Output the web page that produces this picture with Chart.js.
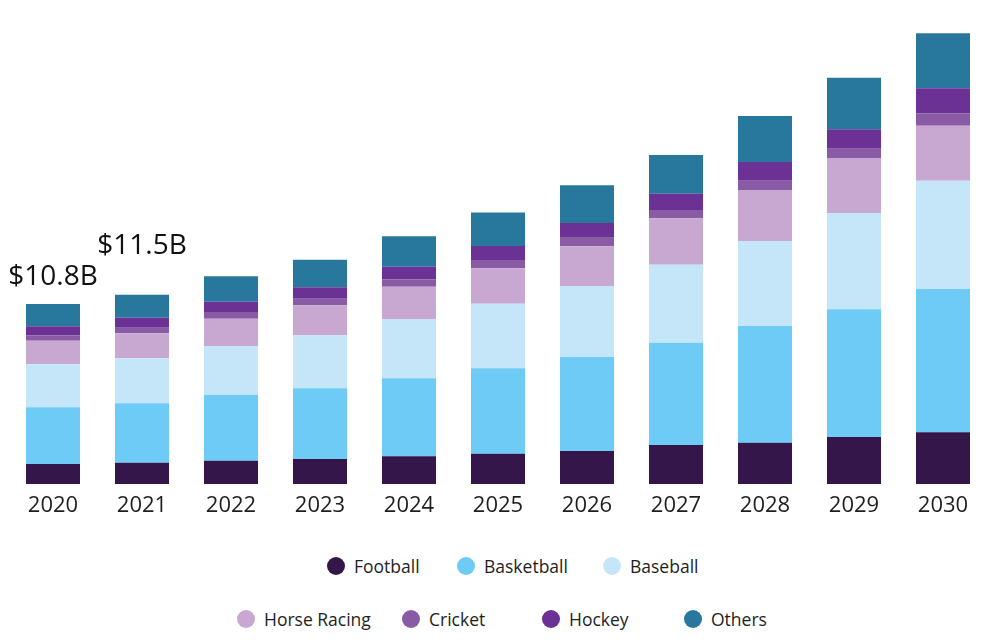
<!DOCTYPE html>
<html>
<head>
<meta charset="utf-8">
<script src="https://cdn.jsdelivr.net/npm/chart.js@4.4.1/dist/chart.umd.min.js"></script>
<style>
  html, body { margin: 0; padding: 0; background: #fff; }
  #wrap { position: relative; width: 1000px; height: 643px; font-family: "Open Sans", sans-serif; color: #1e1e1e; }
  #chart-box { position: absolute; left: 0; top: 0; width: 1000px; height: 530px; }
  .legend-item { position: absolute; display: flex; align-items: center; font-size: 17.5px; white-space: nowrap; transform: translateY(-50%); }
  .legend-dot { width: 18px; height: 18px; border-radius: 50%; margin-right: 9px; }
</style>
</head>
<body>
<div id="wrap">
  <div id="chart-box"><canvas id="marketchart" width="1000" height="530"></canvas></div>
  <div id="legend"></div>
</div>
<script>
// years on the x axis
const years = ['2020', '2021', '2022', '2023', '2024', '2025', '2026', '2027', '2028', '2029', '2030'];

// market size by segment, $B
const football    = [1.20, 1.28, 1.40, 1.50, 1.66, 1.82, 1.98, 2.34, 2.48, 2.82, 3.10];
const basketball  = [3.40, 3.56, 3.94, 4.24, 4.68, 5.12, 5.64, 6.14, 7.00, 7.66, 8.60];
const baseball    = [2.58, 2.70, 2.94, 3.18, 3.56, 3.88, 4.26, 4.68, 5.10, 5.78, 6.50];
const horseRacing = [1.42, 1.50, 1.64, 1.80, 1.94, 2.12, 2.38, 2.78, 3.06, 3.30, 3.30];
const cricket     = [0.32, 0.34, 0.40, 0.40, 0.44, 0.50, 0.52, 0.50, 0.56, 0.56, 0.74];
const hockey      = [0.54, 0.60, 0.62, 0.68, 0.76, 0.84, 0.88, 0.98, 1.12, 1.16, 1.50];
const others      = [1.34, 1.38, 1.52, 1.66, 1.82, 2.01, 2.26, 2.32, 2.76, 3.10, 3.30];

// total labels shown above the first bars
const totalLabels = ['$10.8B', '$11.5B'];

const seriesNames = ['Football', 'Basketball', 'Baseball', 'Horse Racing', 'Cricket', 'Hockey', 'Others'];
const seriesValues = [football, basketball, baseball, horseRacing, cricket, hockey, others];
const seriesColors = ['#34164a', '#6ecbf5', '#c4e6f8', '#c8a8d1', '#8a5ba5', '#6c3194', '#28789e'];

// layout bits
const labelLift = [19, 41];  // px above the bar top
const legendSpots = [[327, 566], [457, 566], [603, 566], [237, 619], [402, 619], [542, 619], [684, 619]];

const datasets = seriesNames.map((name, i) => ({
  label: name,
  data: seriesValues[i],
  backgroundColor: seriesColors[i],
  borderWidth: 0,
  barPercentage: 0.607,
  categoryPercentage: 1
}));

// draws the $ totals above the first bars
const totalsPlugin = {
  id: 'totals',
  afterDatasetsDraw(chart) {
    const ctx = chart.ctx;
    const topMeta = chart.getDatasetMeta(chart.data.datasets.length - 1);
    ctx.save();
    ctx.font = '28px "Open Sans"';
    ctx.fillStyle = '#111';
    ctx.textAlign = 'center';
    ctx.textBaseline = 'alphabetic';
    totalLabels.forEach((txt, i) => {
      const bar = topMeta.data[i];
      ctx.fillText(txt, bar.x, bar.y - labelLift[i]);
    });
    ctx.restore();
  }
};

const ctx = document.getElementById('marketchart').getContext('2d');
const marketChart = new Chart(ctx, {
  type: 'bar',
  data: { labels: years, datasets: datasets },
  options: {
    responsive: false,
    animation: false,
    layout: { padding: { top: 10, left: 8.5, right: 12.5, bottom: 1.6 } },
    plugins: {
      legend: { display: false },
      tooltip: { enabled: false }
    },
    scales: {
      x: {
        stacked: true,
        grid: { display: false, drawTicks: false },
        border: { display: false },
        ticks: { color: '#1e1e1e', padding: 9, font: { family: 'Open Sans', size: 22 } }
      },
      y: {
        stacked: true,
        display: false,
        min: 0,
        max: 28.44
      }
    }
  },
  plugins: [totalsPlugin]
});

// html legend, two rows like the original
const legendBox = document.getElementById('legend');
seriesNames.forEach((name, i) => {
  const item = document.createElement('div');
  item.className = 'legend-item';
  item.style.left = legendSpots[i][0] + 'px';
  item.style.top = legendSpots[i][1] + 'px';
  const dot = document.createElement('span');
  dot.className = 'legend-dot';
  dot.style.backgroundColor = seriesColors[i];
  const txt = document.createElement('span');
  txt.textContent = name;
  item.appendChild(dot);
  item.appendChild(txt);
  legendBox.appendChild(item);
});
</script>
</body>
</html>
